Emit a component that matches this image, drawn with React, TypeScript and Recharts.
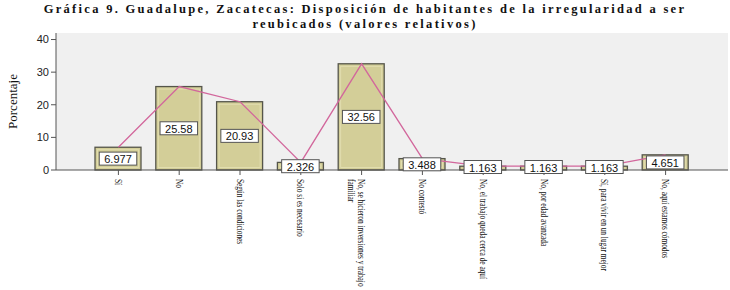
import { ComposedChart, Bar, Line, XAxis, YAxis, CartesianGrid, LabelList } from 'recharts'

const categories = [
  'Sí',
  'No',
  'Según las condiciones',
  'Solo si es necesario',
  'No, se hicieron inversiones y trabajo familiar',
  'No contestó',
  'No, el trabajo queda cerca de aquí',
  'No, por edad avanzada',
  'Sí, para vivir en un lugar mejor',
  'No, aquí estamos cómodos',
]
const percentages = [6.977, 25.58, 20.93, 2.326, 32.56, 3.488, 1.163, 1.163, 1.163, 4.651]
const yTicks = [0, 10, 20, 30, 40]

const chartData = categories.map((name, i) => ({ name, value: percentages[i] }))

const SERIF = '"Liberation Serif", "Times New Roman", serif'
const SANS = '"Liberation Sans", Arial, sans-serif'

// split long labels into lines of at most maxChars
const wrap = (text: string, maxChars: number): string[] => {
  const lines: string[] = []
  let cur = ''
  for (const word of text.split(' ')) {
    const next = cur === '' ? word : `${cur} ${word}`
    if (next.length > maxChars && cur !== '') {
      lines.push(cur)
      cur = word
    } else {
      cur = next
    }
  }
  if (cur !== '') lines.push(cur)
  return lines
}

const CategoryTick = (props: any) => {
  const { x, y, payload } = props
  const lines = wrap(String(payload.value), 38)
  return (
    <g transform={`translate(${x},${y + 2}) rotate(90) scale(0.7,1)`}>
      <text
        x={0}
        y={0}
        textAnchor="start"
        dominantBaseline="central"
        fontFamily={SERIF}
        fontSize={10.5}
        fill="#111"
      >
        {lines.map((line, i) => (
          <tspan key={i} x={0} dy={i === 0 ? 0 : 10}>
            {line}
          </tspan>
        ))}
      </text>
    </g>
  )
}

const BeveledBar = (props: any) => {
  const { x, y, width, height } = props
  if (width === undefined || height === undefined) return null
  const inset = 2.5
  return (
    <g>
      <rect x={x} y={y} width={width} height={height} fill="#d3ce98" stroke="#55554a" strokeWidth={1.3} />
      {height > inset * 2 && (
        <rect
          x={x + inset}
          y={y + inset}
          width={width - inset * 2}
          height={height - inset * 2}
          fill="none"
          stroke="#e4e0b4"
          strokeWidth={0.8}
        />
      )}
    </g>
  )
}

const ValueLabel = (props: any) => {
  const { x, y, width, height, value } = props
  const cx = x + width / 2
  const cy = Math.min(y + height / 2, 167)
  const text = String(value)
  const w = text.length * 6.3 + 6
  return (
    <g>
      <rect x={cx - w / 2} y={cy - 6.5} width={w} height={13} fill="#fff" stroke="#555" strokeWidth={1} />
      <text x={cx} y={cy + 0.5} textAnchor="middle" dominantBaseline="central" fontFamily={SANS} fontSize={11} fill="#111">
        {text}
      </text>
    </g>
  )
}

const titleLine = {
  width: 730,
  textAlign: 'center' as const,
  fontFamily: SERIF,
  fontWeight: 700,
  fontSize: 12.5,
  letterSpacing: 2.3,
  lineHeight: '15px',
  height: 15,
  color: '#111',
  whiteSpace: 'nowrap' as const,
}

export default function App() {
  return (
    <div style={{ position: 'absolute', left: 0, top: 0, width: 730, height: 290, background: '#fff' }}>
      <div style={{ position: 'absolute', left: 0, top: 2 }}>
        <div style={titleLine}>Gráfica 9. Guadalupe, Zacatecas: Disposición de habitantes de la irregularidad a ser</div>
        <div style={titleLine}>reubicados (valores relativos)</div>
      </div>
      <ComposedChart width={730} height={290} data={chartData} margin={{ top: 33, right: 2, bottom: 0, left: 0 }}>
        <CartesianGrid horizontal={false} vertical={false} fill="#f0f0f0" />
        <XAxis
          dataKey="name"
          interval={0}
          height={120}
          padding={{ left: 32, right: 32 }}
          tick={<CategoryTick />}
          tickSize={5}
          stroke="#555"
        />
        <XAxis xAxisId="top" orientation="top" dataKey="name" tick={false} tickLine={false} height={0} stroke="#999" />
        <YAxis
          domain={[0, 42]}
          ticks={yTicks}
          width={56}
          tickSize={5}
          stroke="#555"
          tick={{ fontFamily: SANS, fontSize: 11, fill: '#222' }}
          label={{
            value: 'Porcentaje',
            angle: -90,
            position: 'insideLeft',
            offset: 12,
            style: { fontFamily: SERIF, fontSize: 13, fill: '#111', textAnchor: 'middle' },
          }}
        />
        <YAxis yAxisId="right" orientation="right" tick={false} tickLine={false} width={0} stroke="#999" />
        <Bar dataKey="value" barSize={46} shape={<BeveledBar />} isAnimationActive={false}>
          <LabelList dataKey="value" content={<ValueLabel />} />
        </Bar>
        <Line
          dataKey="value"
          type="linear"
          stroke="#d2679c"
          strokeWidth={1.3}
          dot={false}
          activeDot={false}
          isAnimationActive={false}
        />
      </ComposedChart>
    </div>
  )
}
